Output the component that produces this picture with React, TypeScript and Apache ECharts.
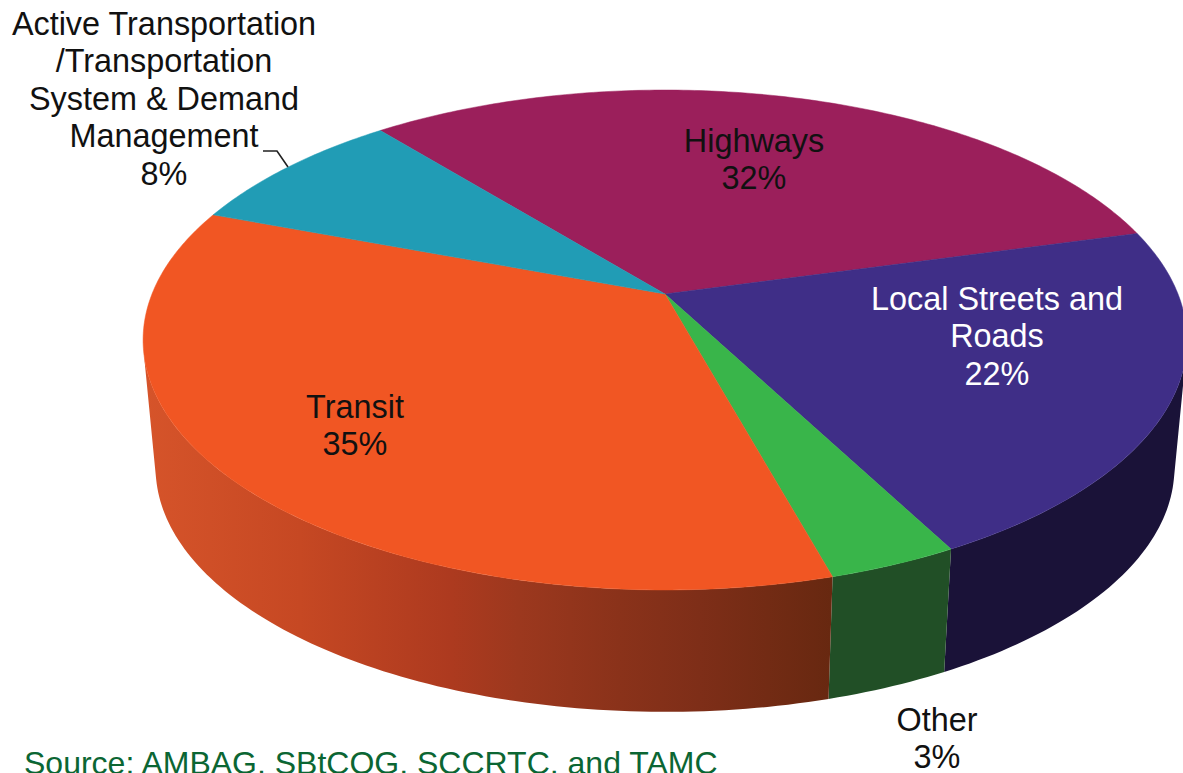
import React, { useEffect, useRef } from "react";
import * as echarts from "echarts";

// Slice shares; the printed labels are their rounded values.
const categories = ["Highways", "Local Streets and Roads", "Other", "Transit", "Active Transportation /Transportation System & Demand Management"];
const shares = [31.7, 21.5, 3.4, 35, 8.4];
const labelLines = [
  ["Highways"],
  ["Local Streets and", "Roads"],
  ["Other"],
  ["Transit"],
  ["Active Transportation", "/Transportation", "System & Demand", "Management"],
];
const topColors = ["#9B1F5B", "#3F2E87", "#39B54A", "#F15623", "#219CB5"];
const labelColors = ["#111111", "#FFFFFF", "#111111", "#111111", "#111111"];
const labelX = [754, 997, 937, 355, 164];
const labelTop = [141, 299, 720, 407, 24];
const sourceText = "Source: AMBAG, SBtCOG, SCCRTC, and TAMC";

const START_DEG = 230.65;
const CX = 665, CY = 294, R = 513, H = 241.5, K = 0.184;
const BOTTOM_CY = 423, BOTTOM_SCALE = 0.976;
const LINE_H = 37.4;
const FONT = '32.4px "Liberation Sans", Arial, sans-serif';
// Angles where the side wall meets the silhouette of the disc.
const WALL_FROM = 13.2, WALL_TO = 166.8;

const transitWallStops: [number, string][] = [
  [143, "#D6542A"],
  [300, "#C64823"],
  [450, "#AD3A1F"],
  [520, "#9C381E"],
  [620, "#8A321A"],
  [700, "#7E2E18"],
  [835, "#672810"],
];

function rel(tDeg: number) {
  const t = (tDeg * Math.PI) / 180;
  const d = 1 - K * Math.sin(t);
  return [(R * Math.cos(t)) / d, (H * Math.sin(t)) / d];
}
const topPt = (t: number) => { const p = rel(t); return [CX + p[0], CY + p[1]]; };
const botPt = (t: number) => { const p = rel(t); return [CX + p[0] * BOTTOM_SCALE, BOTTOM_CY + p[1] * BOTTOM_SCALE]; };

function sliceRange(i: number) {
  const total = shares.reduce((a, b) => a + b, 0);
  let a = START_DEG;
  for (let k = 0; k < i; k++) a += (shares[k] / total) * 360;
  return [a, a + (shares[i] / total) * 360];
}

function wallFill(i: number): any {
  if (i === 1) return "#1A1238";
  if (i === 2) return "#214F26";
  const x0 = transitWallStops[0][0];
  const x1 = transitWallStops[transitWallStops.length - 1][0];
  return new echarts.graphic.LinearGradient(
    x0, 0, x1, 0,
    transitWallStops.map(([x, color]) => ({ offset: (x - x0) / (x1 - x0), color })),
    true
  );
}

function renderWall(params: any) {
  const i = params.dataIndex;
  const [a, b] = sliceRange(i);
  const children: any[] = [];
  for (const shift of [0, 360]) {
    const s = Math.max(a, WALL_FROM + shift), e = Math.min(b, WALL_TO + shift);
    if (e <= s) continue;
    const n = Math.ceil(e - s);
    const upper: number[][] = [];
    const lower: number[][] = [];
    for (let k = 0; k <= n; k++) {
      const t = s + ((e - s) * k) / n;
      upper.push(topPt(t));
      lower.push(botPt(t));
    }
    children.push({
      type: "polygon",
      shape: { points: [...upper, ...lower.reverse()] },
      style: { fill: wallFill(i) },
      silent: true,
    });
  }
  return { type: "group", children };
}

function renderTop(params: any) {
  const i = params.dataIndex;
  const [a, b] = sliceRange(i);
  const pts: number[][] = [[CX, CY]];
  const n = Math.ceil((b - a) / 0.75);
  for (let k = 0; k <= n; k++) pts.push(topPt(a + ((b - a) * k) / n));
  return {
    type: "polygon",
    shape: { points: pts },
    style: { fill: topColors[i], stroke: topColors[i], lineWidth: 0.5 },
    silent: true,
  };
}

const labelGraphics = categories.map((_, i) => ({
  type: "text",
  x: labelX[i],
  y: labelTop[i] - LINE_H / 2,
  silent: true,
  style: {
    text: [...labelLines[i], `${Math.round(shares[i])}%`].join("\n"),
    fill: labelColors[i],
    font: FONT,
    lineHeight: LINE_H,
    align: "center",
    verticalAlign: "top",
  },
}));

export default function App() {
  const ref = useRef<HTMLDivElement>(null);
  useEffect(() => {
    const chart = echarts.init(ref.current!, undefined, { renderer: "svg" });
    const data = shares.map((v, i) => ({ name: categories[i], value: v }));
    chart.setOption({
      animation: false,
      backgroundColor: "#FFFFFF",
      series: [
        { type: "custom", coordinateSystem: "none", z: 1, silent: true, data, renderItem: renderWall },
        { type: "custom", coordinateSystem: "none", z: 2, silent: true, data, renderItem: renderTop },
      ],
      graphic: {
        elements: [
          ...labelGraphics.map((g) => ({ ...g, z: 10 })),
          {
            type: "polyline",
            z: 10,
            silent: true,
            shape: { points: [[263, 151], [277, 151], [288, 167]] },
            style: { stroke: "#222222", lineWidth: 1.6, fill: "none" },
          },
          {
            type: "text",
            z: 10,
            x: 24,
            y: 747,
            silent: true,
            style: {
              text: sourceText,
              fill: "#0B6633",
              font: '32px "Liberation Sans", Arial, sans-serif',
              align: "left",
              verticalAlign: "top",
            },
          },
        ],
      },
    });
    return () => chart.dispose();
  }, []);
  return <div ref={ref} style={{ position: "fixed", left: 0, top: 0, width: 1183, height: 773, overflow: "hidden" }} />;
}
